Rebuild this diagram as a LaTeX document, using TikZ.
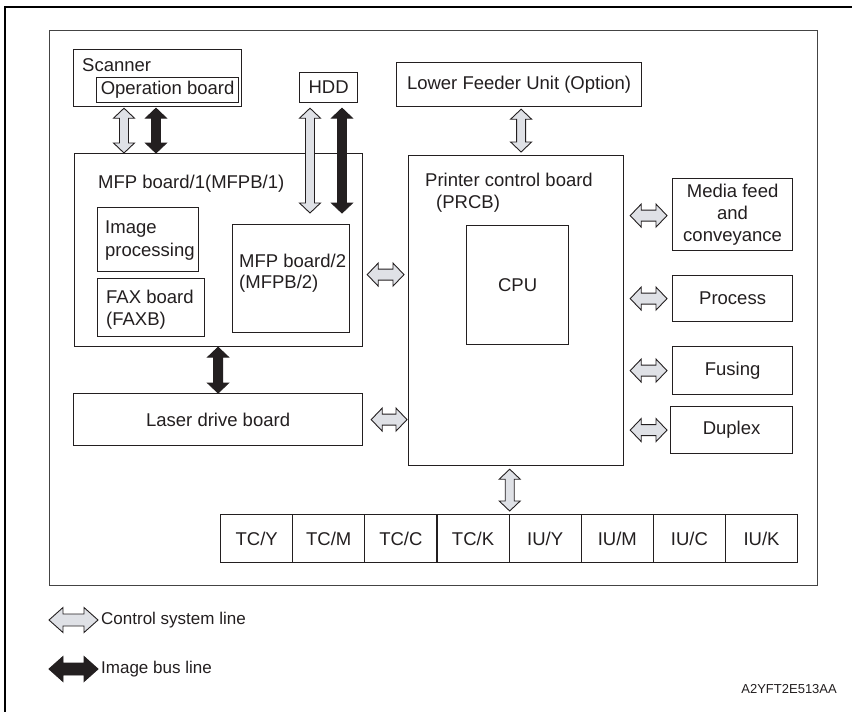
\documentclass[tikz,border=0pt]{standalone}
\usepackage{fontspec}
\setmainfont{Liberation Sans}
\usetikzlibrary{calc}
\definecolor{ink}{HTML}{231F20}
\definecolor{ctrlfill}{HTML}{DFE1E6}
\definecolor{framegray}{HTML}{444444}
\newcommand\baH{10.5pt}
\newcommand\baS{4.5pt}
\newcommand\baL{10pt}
\newcommand\blockarrow[3]{%
  \coordinate (baA) at #2;
  \coordinate (baB) at #3;
  \coordinate (baP) at ($(baA)!\baL!(baB)$);
  \coordinate (baQ) at ($(baB)!\baL!(baA)$);
  \draw[arrowshape,#1] (baA) -- ($(baP)!\baH!90:(baB)$) -- ($(baP)!\baS!90:(baB)$)
    -- ($(baQ)!\baS!-90:(baA)$) -- ($(baQ)!\baH!-90:(baA)$) -- (baB)
    -- ($(baQ)!\baH!90:(baA)$) -- ($(baQ)!\baS!90:(baA)$)
    -- ($(baP)!\baS!-90:(baB)$) -- ($(baP)!\baH!-90:(baB)$) -- cycle;}
\tikzset{
  box/.style={draw=ink, line width=1.2pt, inner sep=0pt, anchor=north west,
    font=\fontsize{18.5}{22}\selectfont, text=ink},
  lbl/.style={inner sep=0pt, anchor=base west, font=\fontsize{18.5}{22}\selectfont, text=ink},
  arrowshape/.style={draw=ink, line width=0.9pt, line join=miter},
  ctrl/.style={fill=ctrlfill},
  bus/.style={fill=ink},
}
\begin{document}
\begin{tikzpicture}[x=1pt, y=-1pt]
\useasboundingbox (0,0) rectangle (852,712);
\fill[white] (0,0) rectangle (852,712);
\draw[black, line width=2pt] (5,712) -- (5,7) -- (852,7);
\node[box, draw=framegray, line width=1.1pt, minimum width=768, minimum height=555] (frame) at (49,30) {};

% top row
\node[box, minimum width=168, minimum height=57] (scanner) at (73,49) {};
\node[lbl] (scannerlbl) at (82,71) {Scanner};
\node[box, minimum width=142, minimum height=25] (opboard) at (96,77) {Operation board};
\node[box, minimum width=58, minimum height=30] (hdd) at (299,72) {HDD};
\node[box, minimum width=245, minimum height=44] (lfu) at (396,62) {Lower Feeder Unit (Option)};

% MFP board
\node[box, minimum width=288, minimum height=193] (mfp1) at (74,153) {};
\node[lbl] (mfp1lbl) at (98,188) {MFP board/1(MFPB/1)};
\node[box, minimum width=101, minimum height=64] (imgproc) at (97,207) {};
\node[lbl] (imgl1) at (105,233) {Image};
\node[lbl] (imgl2) at (105,256) {processing};
\node[box, minimum width=107, minimum height=58] (fax) at (97,278) {};
\node[lbl] (faxl1) at (106,303) {FAX board};
\node[lbl] (faxl2) at (106,325) {(FAXB)};
\node[box, minimum width=117, minimum height=108] (mfp2) at (232,224) {};
\node[lbl] (mfp2l1) at (239,267) {MFP board/2};
\node[lbl] (mfp2l2) at (239,288) {(MFPB/2)};

% laser
\node[box, minimum width=289, minimum height=52] (laser) at (73,393) {Laser drive board};

% printer control board
\node[box, minimum width=215, minimum height=310] (prcb) at (408,155) {};
\node[lbl] (prcbl1) at (425,186) {Printer control board};
\node[lbl] (prcbl2) at (436,208) {(PRCB)};
\node[box, minimum width=102, minimum height=119] (cpu) at (466,225) {CPU};

% right column
\node[box, minimum width=120, minimum height=72, align=center] (media) at (672,178) {Media feed\\and\\conveyance};
\node[box, minimum width=120, minimum height=46] (process) at (672,275) {Process};
\node[box, minimum width=120, minimum height=48] (fusing) at (672,346) {Fusing};
\node[box, minimum width=122, minimum height=47] (duplex) at (670,406) {Duplex};

% TC / IU row
\foreach \i/\t in {0/TC\slash Y,1/TC\slash M,2/TC\slash C,3/TC\slash K,4/IU\slash Y,5/IU\slash M,6/IU\slash C,7/IU\slash K}{
  \node[box, minimum width=72.125, minimum height=48] (tc\i) at ({220+72.125*\i},514) {\t};
}

% arrows: scanner
\coordinate (sc1) at ([xshift=51pt]scanner.south west);
\coordinate (sc2) at ([xshift=83pt]scanner.south west);
\blockarrow{ctrl}{($(sc1)+(0,1)$)}{(sc1 |- mfp1.north)}
\blockarrow{bus}{($(sc2)+(0,1)$)}{(sc2 |- mfp1.north)}

% arrows: HDD
\coordinate (hd1) at ([xshift=11pt]hdd.south west);
\coordinate (hd2) at ([xshift=43pt]hdd.south west);
\blockarrow{ctrl}{($(hd1)+(0,5)$)}{($(hd1 |- mfp2.north)+(0,-11)$)}
\blockarrow{bus}{($(hd2)+(0,5)$)}{($(hd2 |- mfp2.north)+(0,-11)$)}

% horizontal arrows are a little larger
\renewcommand\baH{11.5pt}
\renewcommand\baS{5.5pt}
\renewcommand\baL{11pt}
% MFP board/2 <-> PRCB
\blockarrow{ctrl}{($(mfp1.east |- mfp2.east)+(4,-4)$)}{($(prcb.west |- mfp2.east)+(-4,-4)$)}

% right side
\blockarrow{ctrl}{($(prcb.east |- media.west)+(6,1)$)}{($(media.west)+(-5,1)$)}
\blockarrow{ctrl}{($(prcb.east |- process.west)+(6,0)$)}{($(process.west)+(-5,0)$)}
\blockarrow{ctrl}{($(prcb.east |- fusing.west)+(6,0)$)}{($(fusing.west)+(-5,0)$)}
\blockarrow{ctrl}{($(prcb.east |- duplex.west)+(6,0)$)}{($(duplex.west)+(-3,0)$)}

% laser
\blockarrow{ctrl}{($(laser.east)+(8,0)$)}{($(prcb.west |- laser.east)+(-1,0)$)}

\renewcommand\baH{10.5pt}
\renewcommand\baS{4.5pt}
\renewcommand\baL{10pt}
\blockarrow{bus}{(laser.north |- mfp1.south)}{(laser.north)}

% Lower feeder <-> PRCB
\coordinate (lf1) at ([xshift=2pt]lfu.south);
\blockarrow{ctrl}{($(lf1)+(0,2)$)}{($(lf1 |- prcb.north)+(0,-3)$)}

% PRCB <-> TC row
\blockarrow{ctrl}{($(tc3.north east |- prcb.south)+(0,3)$)}{($(tc3.north east)+(0,-3)$)}

% legend
\renewcommand\baH{12.5pt}
\renewcommand\baS{6pt}
\renewcommand\baL{14pt}
\coordinate (lg1a) at (49,620);
\coordinate (lg1b) at (98,620);
\coordinate (lg2a) at (49,669);
\coordinate (lg2b) at (98,669);
\blockarrow{ctrl}{(lg1a)}{(lg1b)}
\blockarrow{bus}{(lg2a)}{(lg2b)}
\node[inner sep=0pt, anchor=west, font=\fontsize{17}{20}\selectfont, text=ink] (lgt1) at (101,620) {Control system line};
\node[inner sep=0pt, anchor=west, font=\fontsize{17}{20}\selectfont, text=ink] (lgt2) at (101,669) {Image bus line};
\node[inner sep=0pt, anchor=base east, font=\fontsize{13}{15}\selectfont, text=ink] (code) at (837,693) {A2YFT2E513AA};
\end{tikzpicture}
\end{document}
